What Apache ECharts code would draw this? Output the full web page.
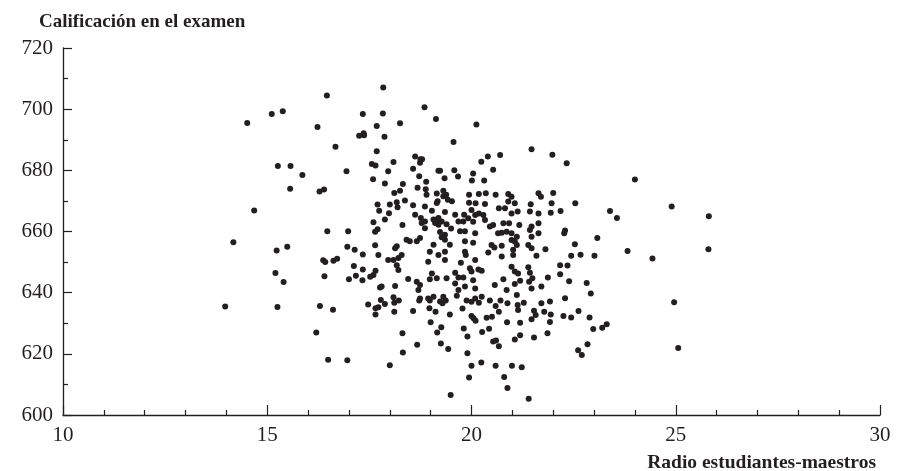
<!DOCTYPE html>
<html>
<head>
<meta charset="utf-8">
<script src="https://cdn.jsdelivr.net/npm/echarts@6/dist/echarts.min.js"></script>
<style>html,body{margin:0;padding:0;background:#fff}#c{width:902px;height:471px}</style>
</head>
<body>
<div id="c"></div>
<script>
// Student-teacher ratio (x) and test score (y) for each district
const ratio = [
16.46,15.11,15.38,14.51,16.23,17.34,17.68,17.25,17.36,17.37,16.67,17.68,15.26,15.57,15.86,16.94,17.56,17.65,17.59,15.56,16.28,16.39,
17.84,17.83,18.85,18.25,19.13,20.12,17.87,19.56,21.47,21.98,18.09,18.62,18.75,18.79,18.74,20.70,20.40,20.24,17.96,18.57,19.19,19.23,19.58,20.04,20.53,19.67,18.72,19.34,17.88,18.32,18.89,20.01,20.31,18.68,18.88,
22.33,24.00,
22.00,22.54,22.18,23.39,23.56,24.90,25.81,22.29,22.27,23.08,22.53,22.44,22.67,23.01,23.82,24.43,25.80,22.17,22.35,22.17,22.39,22.82,22.92,22.29,24.96,
22.25,22.44,22.62,22.89,22.98,23.20,23.31,22.84,22.61,22.70,25.06,
14.68,17.70,17.74,17.60,17.64,17.70,16.47,16.98,14.17,15.23,15.49,16.96,17.14,17.34,17.64,17.72,16.37,16.42,16.62,16.71,17.12,17.34,17.65,17.60,17.52,15.20,15.40,16.40,17.00,17.17,17.33,17.76,
13.97,15.25,16.29,16.61,17.47,17.65,17.72,17.65,16.20,16.49,16.96,
17.88,18.11,18.22,18.11,18.57,18.72,18.98,18.97,19.12,19.29,19.37,19.47,19.78,19.88,20.00,20.18,20.45,20.59,20.67,20.71,20.88,21.13,21.14,21.28,21.53,21.57,21.78,21.94,21.47,21.92,21.86,21.53,21.19,21.06,21.19,20.87,20.37,20.50,20.00,20.05,20.10,19.81,19.90,20.26,20.43,20.53,20.60,20.67,19.00,19.26,19.16,19.25,19.43,19.90,18.31,18.67,18.32,18.00,20.00,20.24,20.59,20.99,21.23,19.94,20.80,20.88,19.49,21.40,
18.11,18.25,18.90,19.15,19.31,19.38,19.31,19.42,19.52,19.17,19.15,18.00,18.17,18.19,18.37,18.57,18.86,19.03,19.35,19.60,17.98,18.62,17.88,18.76,18.86,18.78,19.07,19.15,19.19,19.27,19.11,19.39,19.19,19.68,19.80,19.82,18.31,18.86,19.23,19.35,19.50,19.72,19.84,18.41,18.49,18.66,18.74,19.27,19.35,19.07,19.47,19.84,18.17,
19.94,20.18,20.35,20.59,20.90,20.98,21.64,21.70,19.94,20.10,20.33,20.67,20.90,21.06,21.45,21.96,20.00,20.09,20.18,20.29,20.82,20.98,21.13,21.43,21.64,21.94,19.92,20.04,20.33,20.53,20.78,20.92,21.17,21.47,21.64,20.09,20.45,20.65,20.74,20.86,20.98,21.11,21.43,21.64,20.04,20.49,20.56,20.74,20.98,21.06,21.11,21.39,21.47,21.81,20.41,20.74,21.02,21.02,21.47,21.59,19.84,19.86,20.09,19.96,20.00,20.17,20.25,20.98,21.06,21.14,21.39,21.43,21.49,21.87,20.78,19.60,19.68,19.80,19.74,20.04,20.57,20.86,21.06,21.19,21.41,21.47,21.71,19.84,20.09,19.60,19.68,20.09,20.25,21.11,21.71,21.92,19.64,
18.13,18.21,18.29,18.09,17.96,18.98,19.19,19.35,18.21,18.17,18.94,19.35,19.03,19.15,17.80,18.13,18.45,18.66,18.74,18.70,18.98,19.39,17.78,18.09,18.74,18.94,19.07,19.23,19.31
];
const score = [
704.5,698.4,699.3,695.5,694.2,698.4,694.5,691.3,692.1,691.5,687.7,686.2,681.4,681.4,678.5,679.7,682.1,681.6,677.1,674.0,673.1,673.7,
707.1,698.6,700.6,695.4,696.8,695.0,691.0,689.3,686.9,685.1,682.7,684.5,683.6,683.6,682.5,685.0,684.5,682.8,679.7,680.5,679.9,679.9,680.0,679.0,680.2,678.0,678.1,677.4,675.7,675.5,676.3,676.7,676.7,674.3,673.8,
682.3,677.0,
672.6,669.2,666.7,666.7,664.4,668.2,665.0,660.3,659.4,657.9,655.8,652.1,652.4,652.1,653.6,651.2,654.2,649.0,648.9,646.0,643.7,643.2,639.7,638.2,636.9,
632.4,631.9,634.0,631.9,628.1,628.5,629.7,623.1,621.2,619.6,621.9,
666.9,668.8,666.8,663.0,659.9,660.7,660.1,660.1,656.5,653.8,655.0,655.0,654.0,652.5,655.5,652.3,650.6,650.0,650.4,651.1,648.7,647.6,647.2,645.8,645.2,646.4,643.5,645.4,644.4,645.5,644.1,641.7,
635.5,635.3,635.6,634.4,636.1,634.9,635.2,632.9,627.0,618.1,617.9,
636.3,636.7,637.4,633.8,634.0,637.4,637.4,634.9,633.8,636.5,637.4,632.9,634.8,637.4,637.0,636.7,637.4,635.6,633.8,637.4,636.5,636.0,634.3,636.7,634.1,632.7,633.8,632.9,631.3,630.4,626.7,625.3,626.1,624.7,630.2,630.3,631.8,632.1,632.4,631.6,630.8,628.3,625.7,627.1,628.2,624.0,624.4,622.5,630.3,628.7,627.0,623.4,621.6,620.2,626.7,623.0,620.4,616.3,616.1,617.2,616.1,616.1,615.6,612.3,612.4,608.8,606.5,605.3,
672.6,673.3,672.0,672.4,673.3,672.0,671.5,670.4,669.9,669.9,669.3,668.8,669.6,667.9,670.1,668.6,668.2,666.8,666.4,665.5,666.0,665.5,663.9,664.4,663.3,662.8,663.9,663.9,664.4,663.3,662.8,662.4,662.2,663.3,663.3,665.5,662.1,661.1,659.8,658.9,661.0,660.1,660.1,657.3,656.8,656.8,657.9,658.1,657.3,655.7,655.7,656.8,655.2,
672.0,672.3,672.5,672.0,672.3,671.4,672.5,671.4,669.4,669.2,669.0,667.6,669.8,669.2,668.9,669.2,667.0,665.4,665.9,665.4,667.6,665.9,666.5,666.5,665.9,666.1,664.3,663.2,663.8,662.1,662.7,662.7,662.1,661.6,662.7,659.4,661.6,659.4,659.6,659.9,659.4,658.3,660.5,659.4,656.3,655.6,654.8,655.3,657.2,656.7,655.6,655.6,658.3,654.2,653.1,651.8,652.3,654.0,654.5,652.1,653.4,652.3,650.7,648.0,646.9,647.6,647.2,648.5,646.9,646.3,648.3,646.5,644.7,645.0,644.4,646.5,645.0,645.0,649.8,644.1,642.5,640.9,642.8,643.9,643.6,641.4,642.0,642.0,641.4,643.0,640.9,638.1,638.7,639.2,636.5,637.1,639.0,
654.5,651.3,652.3,650.7,650.7,653.4,652.3,653.4,647.4,649.0,650.1,650.7,646.3,644.7,642.0,642.2,644.5,643.6,642.5,640.9,644.4,644.7,637.6,638.5,638.1,638.1,638.7,637.1,638.7
];
const yTitle = 'Calificación en el examen';
const xTitle = 'Radio estudiantes-maestros';

const ink = '#231f20';
const serif = '"Liberation Serif","DejaVu Serif",serif';
const points = ratio.map((r, i) => [r, score[i]]);

const chart = echarts.init(document.getElementById('c'), null, {renderer: 'canvas'});
chart.setOption({
  animation: false,
  backgroundColor: '#fff',
  title: [
    {text: yTitle, left: 34, top: 8, textStyle: {fontFamily: serif, fontWeight: 'bold', fontSize: 19, color: ink}},
    {text: xTitle, right: 21, top: 448, textStyle: {fontFamily: serif, fontWeight: 'bold', fontSize: 19.5, color: ink}}
  ],
  grid: {left: 63, right: 22, top: 48, bottom: 56, outerBoundsMode: 'none'},
  xAxis: {
    type: 'value', min: 10, max: 30, interval: 5,
    axisLine: {show: true, onZero: false, lineStyle: {color: ink, width: 1.3}},
    axisTick: {show: true, inside: true, length: 10, lineStyle: {color: ink, width: 1.2}},
    minorTick: {show: true, splitNumber: 5, length: 5, lineStyle: {color: ink, width: 1.2}},
    splitLine: {show: false},
    axisLabel: {margin: 10, fontFamily: serif, fontSize: 21, color: ink}
  },
  yAxis: {
    type: 'value', min: 600, max: 720, interval: 20,
    axisLine: {show: true, onZero: false, lineStyle: {color: ink, width: 1.3}},
    axisTick: {show: true, inside: true, length: 9, lineStyle: {color: ink, width: 1.2}},
    minorTick: {show: true, splitNumber: 2, length: 5, lineStyle: {color: ink, width: 1.2}},
    splitLine: {show: false},
    axisLabel: {margin: 10, fontFamily: serif, fontSize: 21, color: ink}
  },
  series: [{
    type: 'scatter',
    data: points,
    symbol: 'circle',
    symbolSize: 6,
    itemStyle: {color: ink, opacity: 1},
    emphasis: {disabled: true}
  }]
});
</script>
</body>
</html>
